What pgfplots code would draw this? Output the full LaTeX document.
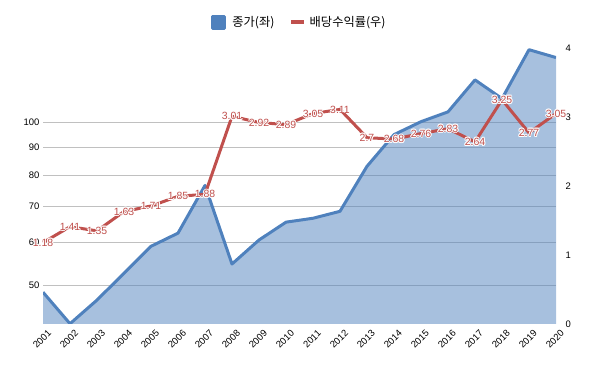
\documentclass[border=0pt]{standalone}
\usepackage{pgfplots}
\pgfplotsset{compat=1.18}
\usepackage{fontspec}
\setmainfont{Liberation Sans}
\newfontfamily\kr{Noto Sans CJK KR}
\definecolor{cA}{HTML}{4F81BD}
\definecolor{cB}{HTML}{C0504D}
\definecolor{gridc}{HTML}{C0C0C0}
\newcommand\halo[1]{%
  \setbox0\hbox{#1}%
  \rlap{\color{white}\kern-0.9bp\copy0}%
  \rlap{\color{white}\kern0.9bp\copy0}%
  \rlap{\color{white}\raise0.9bp\copy0}%
  \rlap{\color{white}\lower0.9bp\copy0}%
  \rlap{\color{white}\kern-0.65bp\raise0.65bp\copy0}%
  \rlap{\color{white}\kern0.65bp\raise0.65bp\copy0}%
  \rlap{\color{white}\kern-0.65bp\lower0.65bp\copy0}%
  \rlap{\color{white}\kern0.65bp\lower0.65bp\copy0}%
  \box0}
\begin{document}
\begin{tikzpicture}[x=1bp,y=1bp]
\path[use as bounding box] (0,0) rectangle (600,371);
\begin{axis}[at={(43bp,47bp)}, anchor=south west, scale only axis,
  width=513bp, height=276bp,
  xmin=2001, xmax=2020, ymode=log, log basis y=10, ymin=42.35, ymax=137.5,
  axis line style={draw=none}, major tick length=0pt,
  ytick={50,60,70,80,90,100}, yticklabels={50,60,70,80,90,100},
  ymajorgrids, grid style={gridc, line width=0.8bp},
  xtick={2001,...,2020},
  xticklabels={2001,2002,2003,2004,2005,2006,2007,2008,2009,2010,2011,2012,2013,2014,2015,2016,2017,2018,2019,2020},
  xticklabel style={anchor=center, yshift=-15bp, xshift=-1bp, rotate=45, font=\fontsize{9.5}{10}\selectfont},
  yticklabel style={font=\fontsize{9.5}{11}\selectfont, xshift=0bp},
  /pgf/number format/assume math mode=true,
  legend style={at={(0.5,1.094)}, anchor=center, draw=none, fill=none, legend columns=2,
    font=\kr\fontsize{12.3}{14}\selectfont,
    /tikz/every even column/.append style={column sep=13bp}},
]
\addplot[fill=cA, fill opacity=0.5, draw=none, forget plot] coordinates {
(2001,48.5)(2002,42.4)(2003,46.9)(2004,52.6)(2005,59.0)(2006,62.4)(2007,76.5)(2008,54.7)(2009,60.6)(2010,65.4)
(2011,66.5)(2012,68.5)(2013,83)(2014,95)(2015,100.4)(2016,104.7)(2017,120)(2018,110.8)(2019,136.5)(2020,132)
(2020,30)(2001,30)} -- cycle;
\addplot[cA, line width=3bp, line join=round,
  legend image code/.code={\fill[cA] (0bp,-6bp) rectangle (12bp,6bp); \path (16bp,0bp);}] coordinates {
(2001,48.5)(2002,42.4)(2003,46.9)(2004,52.6)(2005,59.0)(2006,62.4)(2007,76.5)(2008,54.7)(2009,60.6)(2010,65.4)
(2011,66.5)(2012,68.5)(2013,83)(2014,95)(2015,100.4)(2016,104.7)(2017,120)(2018,110.8)(2019,136.5)(2020,132)};
\addlegendentry{종가(좌)}
\addlegendimage{cB, line width=3bp, legend image code/.code={\draw[cB, line width=3.5bp] (0bp,0bp) -- (13bp,0bp); \path (15bp,0bp);}}
\addlegendentry{배당수익률(우)}
\end{axis}
\begin{axis}[at={(43bp,47bp)}, anchor=south west, scale only axis,
  width=513bp, height=276bp,
  xmin=2001, xmax=2020, ymin=0, ymax=4,
  axis y line*=right, axis x line=none,
  axis line style={draw=none}, major tick length=0pt,
  ytick={0,1,2,3,4},
  yticklabel style={font=\fontsize{9.5}{11}\selectfont, xshift=6bp},
  /pgf/number format/assume math mode=true,
  clip=false,
]
\addplot[cB, line width=3bp, line join=round,
  nodes near coords={\halo{\pgfplotspointmeta}}, point meta=explicit symbolic,
  every node near coord/.append style={anchor=center, text=cB, font=\fontsize{10.5}{12}\selectfont}]
coordinates {
(2001,1.18)[1.18] (2002,1.41)[1.41] (2003,1.35)[1.35] (2004,1.63)[1.63] (2005,1.71)[1.71]
(2006,1.85)[1.85] (2007,1.88)[1.88] (2008,3.01)[3.01] (2009,2.92)[2.92] (2010,2.89)[2.89]
(2011,3.05)[3.05] (2012,3.11)[3.11] (2013,2.7)[2.7] (2014,2.68)[2.68] (2015,2.76)[2.76]
(2016,2.83)[2.83] (2017,2.64)[2.64] (2018,3.25)[3.25] (2019,2.77)[2.77] (2020,3.05)[3.05]};
\end{axis}
\end{tikzpicture}
\end{document}
